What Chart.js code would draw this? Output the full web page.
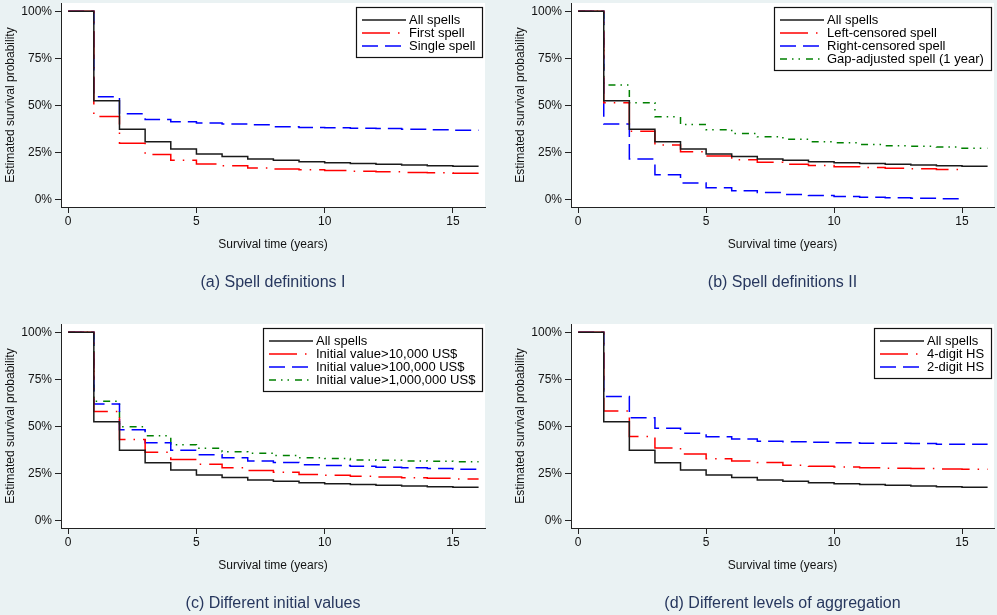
<!DOCTYPE html>
<html>
<head>
<meta charset="utf-8">
<title>Survival of trade spells</title>
<script src="https://cdn.jsdelivr.net/npm/chart.js"></script>
<style>
  body { margin: 0; background: #eaf2f3; overflow: hidden; }
  canvas { position: absolute; }
</style>
</head>
<body>
<canvas id="chartA" width="498" height="294" style="left:0;top:0"></canvas>
<canvas id="chartB" width="487" height="294" style="left:510px;top:0"></canvas>
<canvas id="chartC" width="498" height="294" style="left:0;top:321px"></canvas>
<canvas id="chartD" width="487" height="294" style="left:510px;top:321px"></canvas>
<script>
// estimated survival (%) on [t, t+1), t = 0, 1, 2, ... ; curve ends at t = length
const allSpells     = [100, 52.4, 37.3, 30.6, 26.8, 24.1, 22.7, 21.4, 20.8, 20.0, 19.4, 19.0, 18.6, 18.2, 17.9, 17.6];
const firstSpell    = [100, 44.0, 29.8, 23.8, 20.8, 18.8, 17.8, 16.6, 16.1, 15.7, 15.3, 14.9, 14.6, 14.3, 14.1, 13.9];
const singleSpell   = [100, 54.6, 45.5, 42.5, 41.3, 40.6, 40.0, 39.7, 38.6, 38.2, 38.0, 37.8, 37.6, 37.3, 37.0, 36.7];
const leftCensored  = [100, 51.4, 36.2, 28.9, 25.3, 23.0, 21.0, 19.7, 18.6, 18.0, 17.3, 16.9, 16.5, 16.2, 15.9];
const rightCensored = [100, 40.0, 21.4, 13.1, 8.7, 6.2, 4.5, 3.6, 2.6, 2.0, 1.5, 1.1, 0.8, 0.5, 0.3];
const gapAdjusted   = [100, 60.8, 51.4, 43.9, 39.8, 37.0, 35.0, 33.2, 31.9, 30.6, 30.1, 29.2, 28.5, 28.2, 27.8, 27.2];
const value10k      = [100, 57.8, 43.0, 36.2, 32.3, 29.8, 27.9, 26.5, 25.5, 24.4, 23.9, 23.4, 23.0, 22.6, 22.3, 22.0];
const value100k     = [100, 61.9, 48.1, 41.2, 37.3, 34.8, 33.2, 31.6, 30.8, 29.6, 29.1, 28.7, 28.2, 27.9, 27.6, 27.2];
const value1m       = [100, 63.3, 49.7, 45.0, 40.2, 38.3, 36.4, 35.7, 34.4, 33.2, 32.8, 32.1, 31.9, 31.6, 31.4, 31.2];
const hs4digit      = [100, 58.1, 44.6, 38.5, 35.2, 32.7, 31.5, 30.7, 29.3, 28.7, 28.4, 28.0, 27.7, 27.5, 27.3, 27.1];
const hs2digit      = [100, 65.8, 54.5, 48.9, 46.3, 44.4, 43.2, 42.0, 41.8, 41.5, 41.2, 41.0, 41.0, 40.9, 40.4, 40.4];

const xTicks = [0, 5, 10, 15];
const yTicks = [0, 25, 50, 75, 100];

const FONT = '"Liberation Sans", Arial, Helvetica, sans-serif';
Chart.defaults.font.family = FONT;
Chart.defaults.color = '#111';

const lineStyles = {
  black: { borderColor: '#1a1a1a', borderDash: [] },
  red:   { borderColor: '#ff0000', borderDash: [28, 8, 1.5, 8] },
  blue:  { borderColor: '#0000ff', borderDash: [16, 7] },
  green: { borderColor: '#008000', borderDash: [7, 5, 1.5, 5, 1.5, 6] }
};

function steps(values) {
  const pts = values.map((v, t) => ({ x: t, y: v }));
  pts.push({ x: values.length, y: values[values.length - 1] });
  return pts;
}

// white plot region
const plotBg = {
  id: 'plotBg',
  beforeDraw(chart) {
    const a = chart.chartArea, ctx = chart.ctx;
    ctx.save();
    ctx.fillStyle = '#fff';
    ctx.fillRect(a.left, a.top, a.right - a.left, a.bottom - a.top);
    ctx.restore();
  }
};

// boxed legend in the top-right corner of the plot
const boxLegend = {
  id: 'boxLegend',
  afterDatasetsDraw(chart) {
    const { ctx, chartArea } = chart;
    const sets = chart.data.datasets;
    ctx.save();
    ctx.font = '13px ' + FONT;
    const textW = Math.max(...sets.map(d => ctx.measureText(d.label).width));
    const right = Math.round(chartArea.right - 3);
    const left = Math.round(right - (6 + 44 + 3 + textW + 7));
    const top = Math.round(chartArea.top + 4);
    const h = Math.round(sets.length * 13 + 11);
    ctx.fillStyle = '#fff';
    ctx.fillRect(left, top, right - left, h);
    ctx.strokeStyle = '#111';
    ctx.lineWidth = 1.2;
    ctx.strokeRect(left + 0.5, top + 0.5, right - left, h);
    sets.forEach((d, i) => {
      const y = top + 13 + 13 * i;
      ctx.beginPath();
      ctx.setLineDash(d.borderDash || []);
      ctx.strokeStyle = d.borderColor;
      ctx.lineWidth = d.borderWidth;
      ctx.moveTo(left + 6, y);
      ctx.lineTo(left + 50, y);
      ctx.stroke();
      ctx.setLineDash([]);
      ctx.fillStyle = '#000';
      ctx.textBaseline = 'middle';
      ctx.textAlign = 'left';
      ctx.fillText(d.label, left + 53, y + 0.5);
    });
    ctx.restore();
  }
};

function makeChart(id, subtitle, series, rightPad) {
  const datasets = series.map(s => ({
    label: s.label,
    data: steps(s.values),
    borderColor: lineStyles[s.style].borderColor,
    borderDash: lineStyles[s.style].borderDash,
    borderWidth: 1.5,
    borderCapStyle: 'butt',
    stepped: 'before',
    pointRadius: 0,
    fill: false
  }));
  return new Chart(document.getElementById(id), {
    type: 'line',
    data: { datasets: datasets },
    plugins: [plotBg, boxLegend],
    options: {
      responsive: false,
      animation: false,
      layout: { padding: { left: 0, right: rightPad, top: 3, bottom: 1.8 } },
      plugins: {
        legend: { display: false },
        tooltip: { enabled: false },
        title: {
          display: true,
          text: subtitle,
          position: 'bottom',
          fullSize: false,
          color: '#27375e',
          font: { size: 16, weight: 'normal', lineHeight: 1.2 },
          padding: { top: 14, bottom: 0 }
        }
      },
      scales: {
        x: {
          type: 'linear',
          min: -0.28,
          max: 16.25,
          afterBuildTicks: s => { s.ticks = xTicks.map(v => ({ value: v })); },
          afterFit: s => { s.height = 52; s.paddingLeft = 0; s.paddingRight = 0; },
          grid: { display: true, drawOnChartArea: false, drawTicks: true, tickLength: 6, color: '#222' },
          border: { display: true, color: '#222', width: 1 },
          ticks: { padding: 1, maxRotation: 0, font: { size: 12 }, color: '#111' },
          title: {
            display: true,
            text: 'Survival time (years)',
            font: { size: 12, lineHeight: 1.2 },
            color: '#111',
            padding: { top: 0, bottom: 7 }
          }
        },
        y: {
          min: -4.1,
          max: 104.4,
          afterBuildTicks: s => { s.ticks = yTicks.map(v => ({ value: v })); },
          afterFit: s => { s.width = 61; s.paddingTop = 0; s.paddingBottom = 0; },
          grid: { display: true, drawOnChartArea: false, drawTicks: true, tickLength: 6, color: '#222' },
          border: { display: true, color: '#222', width: 1 },
          ticks: { padding: 3, font: { size: 12 }, color: '#111', callback: v => v + '%' },
          title: {
            display: true,
            text: 'Estimated survival probability',
            font: { size: 12, lineHeight: 1.2 },
            color: '#111',
            padding: { top: 3, bottom: 0 }
          }
        }
      }
    }
  });
}

makeChart('chartA', '(a) Spell definitions I', [
  { label: 'All spells', values: allSpells, style: 'black' },
  { label: 'First spell', values: firstSpell, style: 'red' },
  { label: 'Single spell', values: singleSpell, style: 'blue' }
], 13);

makeChart('chartB', '(b) Spell definitions II', [
  { label: 'All spells', values: allSpells, style: 'black' },
  { label: 'Left-censored spell', values: leftCensored, style: 'red' },
  { label: 'Right-censored spell', values: rightCensored, style: 'blue' },
  { label: 'Gap-adjusted spell (1 year)', values: gapAdjusted, style: 'green' }
], 3);

makeChart('chartC', '(c) Different initial values', [
  { label: 'All spells', values: allSpells, style: 'black' },
  { label: 'Initial value>10,000 US$', values: value10k, style: 'red' },
  { label: 'Initial value>100,000 US$', values: value100k, style: 'blue' },
  { label: 'Initial value>1,000,000 US$', values: value1m, style: 'green' }
], 13);

makeChart('chartD', '(d) Different levels of aggregation', [
  { label: 'All spells', values: allSpells, style: 'black' },
  { label: '4-digit HS', values: hs4digit, style: 'red' },
  { label: '2-digit HS', values: hs2digit, style: 'blue' }
], 3);
</script>
</body>
</html>
